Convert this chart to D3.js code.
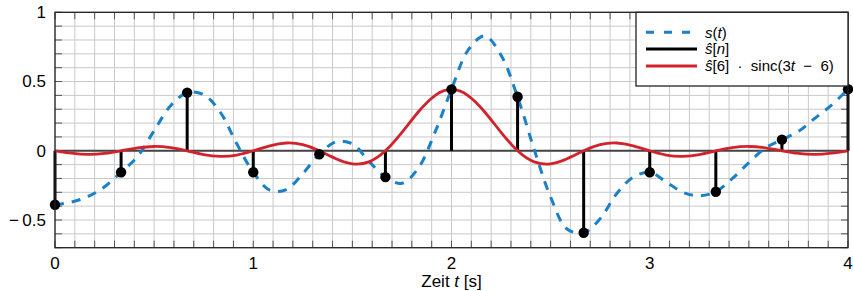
<!DOCTYPE html>
<html><head><meta charset="utf-8">
<script src="https://cdn.jsdelivr.net/npm/d3@7"></script>
<style>
body{margin:0;background:#fff;}
text{font-family:"Liberation Sans",Arial,Helvetica,sans-serif;}
</style></head>
<body><svg id="c" width="853" height="291"></svg>
<script>
// continuous signal s(t)
const sT = [0,0.083,0.167,0.25,0.333,0.417,0.5,0.583,0.667,0.75,0.833,0.917,
  1.0,1.083,1.167,1.25,1.333,1.417,1.5,1.583,1.667,1.75,1.833,1.917,
  2.0,2.083,2.167,2.25,2.333,2.417,2.5,2.583,2.667,2.75,2.833,2.917,
  3.0,3.083,3.167,3.25,3.333,3.417,3.5,3.583,3.667,3.75,3.833,3.917,4.0];
const sV = [-0.39,-0.37,-0.33,-0.26,-0.155,-0.04,0.145,0.325,0.42,0.405,0.28,0.05,
  -0.155,-0.285,-0.28,-0.165,-0.025,0.065,0.05,-0.075,-0.19,-0.235,-0.125,0.135,
  0.443,0.725,0.83,0.69,0.39,0.01,-0.335,-0.565,-0.592,-0.49,-0.31,-0.19,
  -0.155,-0.225,-0.30,-0.325,-0.296,-0.2,-0.085,0.02,0.08,0.14,0.235,0.33,0.445];
// samples s^[n] at t = n/3
const nT = [0,1/3,2/3,1,4/3,5/3,2,7/3,8/3,3,10/3,11/3,4];
const nV = [-0.39,-0.155,0.42,-0.155,-0.025,-0.19,0.443,0.39,-0.592,-0.155,-0.296,0.08,0.445];
// red curve s^[6]*sinc(3t-6), read at t = k/12
const rT = d3.range(49).map(k => k/12);
const rHalf = [0.443,0.399,0.282,0.133,0,-0.080,-0.094,-0.057,0,0.044,0.056,0.036,0,
  -0.031,-0.040,-0.027,0,0.023,0.031,0.021,0,-0.019,-0.026,-0.017,0];
const rV = rHalf.slice(1).reverse().concat(rHalf);
const xTicks = [0,1,2,3,4];
const yTicks = [-0.5,0,0.5,1];
const legendLabels = ["s(t)","ŝ[n]","ŝ[6] · sinc(3t − 6)"];

const svg = d3.select("#c");
const L=55, R=848, T=12.3, B=247.7;
const x = d3.scaleLinear().domain([0,4]).range([L,R]);
const y = d3.scaleLinear().domain([-0.7,1]).range([B,T]);
const blue="#1a80c8", red="#d2232c";

// grid
const gx = d3.range(0,41).map(i=>i/10);
const gy = d3.range(-7,11).map(i=>i/10);
svg.append("g").selectAll("line").data(gx).join("line")
  .attr("x1",d=>x(d)).attr("x2",d=>x(d)).attr("y1",T).attr("y2",B)
  .attr("stroke","#c9c9c9").attr("stroke-width",1);
svg.append("g").selectAll("line").data(gy).join("line")
  .attr("y1",d=>y(d)).attr("y2",d=>y(d)).attr("x1",L).attr("x2",R)
  .attr("stroke","#c9c9c9").attr("stroke-width",1);

// minor ticks on all sides
const tk = svg.append("g").attr("stroke","#555").attr("stroke-width",1);
gx.forEach(d=>{
  tk.append("line").attr("x1",x(d)).attr("x2",x(d)).attr("y1",B).attr("y2",B-7);
  tk.append("line").attr("x1",x(d)).attr("x2",x(d)).attr("y1",T).attr("y2",T+7);
});
gy.forEach(d=>{
  tk.append("line").attr("y1",y(d)).attr("y2",y(d)).attr("x1",L).attr("x2",L+7);
  tk.append("line").attr("y1",y(d)).attr("y2",y(d)).attr("x1",R).attr("x2",R-7);
});

// zero line
svg.append("line").attr("x1",L).attr("x2",R).attr("y1",y(0)).attr("y2",y(0))
  .attr("stroke","#444").attr("stroke-width",1.8);

// blue dashed
const sData = sT.map((t,i)=>[t,sV[i]]);
svg.append("path").datum(sData)
  .attr("d",d3.line().x(d=>x(d[0])).y(d=>y(d[1])).curve(d3.curveCatmullRom.alpha(0.5)))
  .attr("fill","none").attr("stroke",blue).attr("stroke-width",3)
  .attr("stroke-dasharray","9,8");

// stems
const nData = nT.map((t,i)=>[t,nV[i]]);
svg.append("g").selectAll("line").data(nData).join("line")
  .attr("x1",d=>x(d[0])).attr("x2",d=>x(d[0])).attr("y1",y(0)).attr("y2",d=>y(d[1]))
  .attr("stroke","#000").attr("stroke-width",3);

// red
const rData = rT.map((t,i)=>[t,rV[i]]);
svg.append("path").datum(rData)
  .attr("d",d3.line().x(d=>x(d[0])).y(d=>y(d[1])).curve(d3.curveNatural))
  .attr("fill","none").attr("stroke",red).attr("stroke-width",2.8);

// markers
svg.append("g").selectAll("circle").data(nData).join("circle")
  .attr("cx",d=>x(d[0])).attr("cy",d=>y(d[1])).attr("r",5.2).attr("fill","#000");

// frame
svg.append("rect").attr("x",L).attr("y",T).attr("width",R-L).attr("height",B-T)
  .attr("fill","none").attr("stroke","#222").attr("stroke-width",1.3);

// tick labels
svg.append("g").selectAll("text").data(yTicks).join("text")
  .attr("x",46).attr("y",d=>y(d)).attr("dy","0.35em").attr("text-anchor","end")
  .attr("font-size",17).text(d=> d<0 ? "−\u2009"+Math.abs(d) : String(d));
svg.append("g").selectAll("text").data(xTicks).join("text")
  .attr("x",d=>x(d)).attr("y",263).attr("dy","0.35em").attr("text-anchor","middle")
  .attr("font-size",17).text(d=>d);
const xt = svg.append("text").attr("x",x(2)).attr("y",281).attr("dy","0.35em")
  .attr("text-anchor","middle").attr("font-size",17);
xt.append("tspan").text("Zeit ");
xt.append("tspan").attr("font-style","italic").text("t");
xt.append("tspan").text(" [s]");

// legend
const lg = svg.append("g");
lg.append("rect").attr("x",636).attr("y",T).attr("width",R-636).attr("height",86-T)
  .attr("fill","#fff").attr("stroke","#222").attr("stroke-width",1.3);
const rows=[32.3,49,66];
lg.append("line").attr("x1",646).attr("x2",697).attr("y1",rows[0]).attr("y2",rows[0])
  .attr("stroke",blue).attr("stroke-width",3).attr("stroke-dasharray","8,10");
lg.append("line").attr("x1",646).attr("x2",697).attr("y1",rows[1]).attr("y2",rows[1])
  .attr("stroke","#000").attr("stroke-width",3);
lg.append("line").attr("x1",646).attr("x2",697).attr("y1",rows[2]).attr("y2",rows[2])
  .attr("stroke",red).attr("stroke-width",2.8);
function lt(yy){return lg.append("text").attr("x",705).attr("y",yy).attr("dy","0.35em").attr("font-size",15);}
let t0=lt(rows[0]);
t0.append("tspan").attr("font-style","italic").text("s");
t0.append("tspan").text("(");
t0.append("tspan").attr("font-style","italic").text("t");
t0.append("tspan").text(")");
let t1=lt(rows[1]);
t1.append("tspan").attr("font-style","italic").text("ŝ");
t1.append("tspan").text("[");
t1.append("tspan").attr("font-style","italic").text("n");
t1.append("tspan").text("]");
let t2=lt(rows[2]);
t2.append("tspan").attr("font-style","italic").text("ŝ");
t2.append("tspan").text("[6]  ·  sinc(3");
t2.append("tspan").attr("font-style","italic").text("t");
t2.append("tspan").text("  −  6)");
t2.attr("xml:space","preserve").style("white-space","pre");
</script></body></html>
